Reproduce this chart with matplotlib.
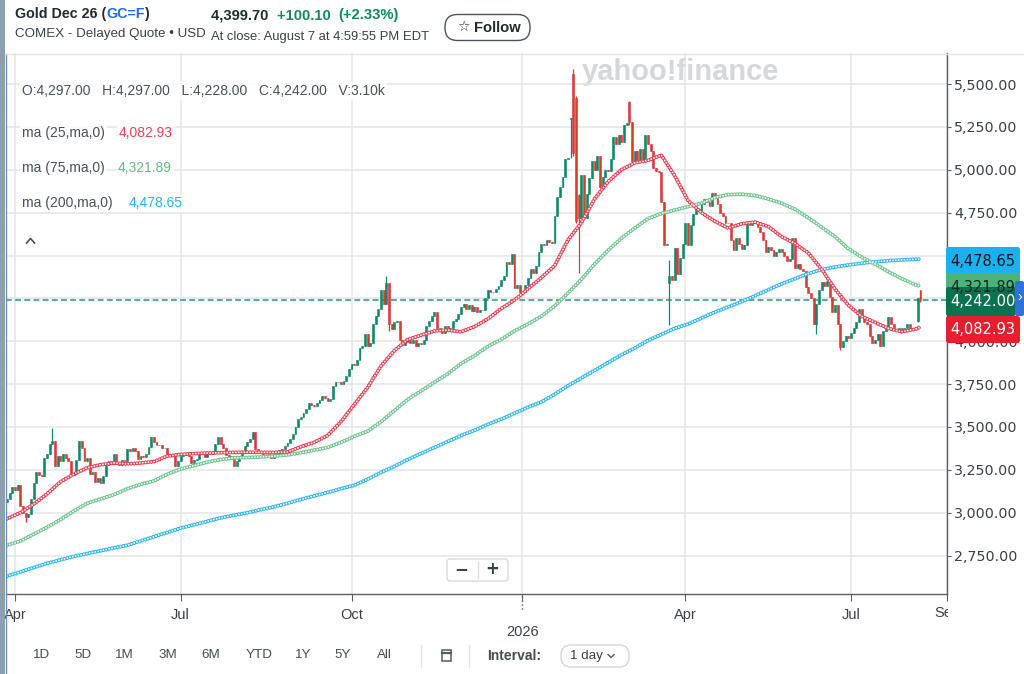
import numpy as np
import pandas as pd
import matplotlib
matplotlib.use("Agg")
import matplotlib.pyplot as plt
import matplotlib.transforms as mtransforms
from matplotlib.patches import FancyBboxPatch, Rectangle

plt.rcParams['lines.scale_dashes'] = False
plt.rcParams['font.family'] = ['Liberation Sans', 'DejaVu Sans']

W, H = 1024, 674

# ---------------- data ----------------
market_holidays = ['2025-04-18', '2025-05-26', '2025-06-19', '2025-07-04', '2025-09-01',
                   '2025-11-27', '2025-12-25', '2026-01-01', '2026-01-19', '2026-02-16',
                   '2026-04-03', '2026-05-25', '2026-06-19', '2026-07-03']
first_day = '2025-03-27'
first_open = 3060

close_2025_mar = [3080, 3115, 3150]
close_2025_apr = [3130, 3160, 3040, 3000, 2975, 2990, 3080, 3175, 3235, 3220, 3215, 3320, 3340,
                  3400, 3420, 3270, 3330, 3300, 3345, 3320, 3300]
close_2025_may = [3220, 3225, 3310, 3420, 3380, 3300, 3320, 3225, 3240, 3180, 3205, 3175, 3215,
                  3280, 3300, 3285, 3340, 3295, 3280, 3305, 3300]
close_2025_jun = [3370, 3360, 3375, 3360, 3315, 3330, 3325, 3340, 3385, 3440, 3410, 3395, 3395,
                  3375, 3380, 3330, 3335, 3340, 3275, 3300]
close_2025_jul = [3330, 3345, 3335, 3330, 3290, 3305, 3315, 3345, 3350, 3325, 3345, 3340, 3360,
                  3400, 3440, 3400, 3375, 3335, 3320, 3330, 3275, 3300]
close_2025_aug = [3330, 3350, 3390, 3410, 3430, 3470, 3370, 3360, 3355, 3345, 3340, 3330, 3320,
                  3345, 3355, 3365, 3370, 3390, 3405, 3430, 3460]
close_2025_sep = [3500, 3545, 3560, 3580, 3605, 3640, 3630, 3620, 3640, 3660, 3680, 3670, 3650,
                  3665, 3740, 3765, 3760, 3750, 3770, 3800, 3840]
close_2025_oct = [3870, 3860, 3890, 3960, 3975, 4040, 3975, 3990, 4100, 4150, 4190, 4300, 4220,
                  4340, 4100, 4070, 4110, 4120, 4010, 3980, 3995, 4010, 3990]
close_2025_nov = [4010, 3975, 3990, 3985, 4005, 4090, 4120, 4150, 4170, 4080, 4060, 4050, 4090,
                  4060, 4075, 4120, 4130, 4160, 4200]
close_2025_dec = [4215, 4190, 4210, 4175, 4200, 4170, 4185, 4180, 4250, 4300, 4290, 4285, 4305,
                  4320, 4360, 4380, 4460, 4450, 4510, 4310, 4330, 4290]
close_2026_jan = [4290, 4330, 4370, 4420, 4400, 4440, 4520, 4570, 4560, 4590, 4580, 4575, 4730,
                  4840, 4900, 4960, 5060, 5070, 5300, 5100]
close_2026_feb = [4700, 4720, 4970, 4720, 4860, 4950, 5050, 5000, 5080, 4900, 4960, 5000, 4990,
                  5060, 5190, 5150, 5200, 5160, 5260]
close_2026_mar = [5270, 5280, 5050, 5110, 5055, 5120, 5050, 5200, 5150, 5110, 5010, 4990, 4985,
                  4810, 4560, 4570, 4380, 4360, 4545, 4390, 4485, 4570]
close_2026_apr = [4690, 4560, 4680, 4740, 4770, 4760, 4800, 4830, 4810, 4790, 4865, 4840, 4800,
                  4750, 4730, 4690, 4690, 4590, 4530, 4600, 4570]
close_2026_may = [4540, 4560, 4690, 4680, 4700, 4690, 4665, 4640, 4590, 4520, 4550, 4530, 4495,
                  4520, 4540, 4520, 4500, 4470, 4480, 4600]
close_2026_jun = [4430, 4450, 4420, 4410, 4315, 4280, 4250, 4100, 4220, 4300, 4345, 4320, 4350,
                  4260, 4170, 4210, 4100, 3965, 4000, 4030, 4020]
close_2026_jul = [4050, 4080, 4110, 4190, 4140, 4110, 4100, 4030, 3990, 4010, 4040, 3975, 4060,
                  4070, 4140, 4100, 4070, 4060, 4080, 4060, 4080, 4100]
close_2026_aug = [4070, 4080, 4070, 4250, 4242]

# (open, high, low) for candles with visible gaps / wicks
ohl_overrides = {
    '2025-04-07': (None, None, 2945),
    '2025-04-22': (None, 3495, None),
    '2025-10-20': (None, 4380, None),
    '2025-10-21': (None, None, 4060),
    '2026-01-29': (5295, None, None),
    '2026-01-30': (5560, 5590, 5080),
    '2026-02-02': (5420, 5430, 4690),
    '2026-02-03': (4850, 4860, 4400),
    '2026-03-03': (5395, 5400, 5260),
    '2026-03-24': (4340, 4475, 4095),
    '2026-06-11': (None, None, 4040),
    '2026-06-25': (None, None, 3950),
    '2026-08-06': (4120, 4255, 4110),
    '2026-08-07': (4297, 4297, 4228),
}

ma_sample_step = 5
ma25_sampled = [2965, 3000, 3050, 3110, 3180, 3225, 3262, 3280, 3290, 3285,
                3290, 3298, 3330, 3340, 3345, 3348, 3350, 3352, 3353, 3352,
                3352, 3354, 3385, 3410, 3450, 3530, 3630, 3730, 3855, 3945,
                4010, 4035, 4060, 4065, 4055, 4085, 4130, 4190, 4240, 4305,
                4370, 4440, 4590, 4690, 4830, 4930, 5000, 5040, 5055, 5085,
                4965, 4820, 4750, 4700, 4660, 4685, 4695, 4670, 4610, 4570,
                4515, 4420, 4305, 4210, 4145, 4110, 4075, 4055, 4070]
ma75_sampled = [2810, 2835, 2875, 2915, 2960, 3010, 3055, 3080, 3105, 3140,
                3165, 3185, 3225, 3255, 3275, 3295, 3310, 3320, 3322, 3325,
                3330, 3337, 3350, 3365, 3380, 3410, 3445, 3475, 3530, 3595,
                3660, 3710, 3760, 3810, 3870, 3915, 3970, 4010, 4060, 4100,
                4145, 4205, 4280, 4360, 4450, 4530, 4600, 4660, 4715, 4745,
                4765, 4785, 4805, 4838, 4855, 4858, 4850, 4830, 4805, 4770,
                4720, 4665, 4610, 4540, 4490, 4450, 4405, 4365, 4330]
ma200_sampled = [2630, 2655, 2680, 2705, 2725, 2745, 2762, 2778, 2795, 2810,
                 2835, 2860, 2885, 2910, 2930, 2950, 2970, 2985, 3000, 3018,
                 3035, 3055, 3077, 3098, 3118, 3140, 3160, 3195, 3235, 3270,
                 3310, 3345, 3380, 3415, 3450, 3480, 3515, 3545, 3580, 3615,
                 3645, 3690, 3740, 3785, 3830, 3875, 3920, 3960, 4005, 4040,
                 4075, 4100, 4135, 4170, 4200, 4230, 4265, 4300, 4335, 4365,
                 4395, 4418, 4433, 4445, 4455, 4463, 4470, 4474, 4478]
ma25_last, ma75_last, ma200_last = 4082.93, 4321.89, 4478.65
last_close = 4242.00

month_ticks = ['2025-04-01', '2025-07-01', '2025-10-01', '2026-01-01', '2026-04-01', '2026-07-01']
month_labels = ['Apr', 'Jul', 'Oct', '', 'Apr', 'Jul']
price_ticks = [2750, 3000, 3250, 3500, 3750, 4000, 4250, 4500, 4750, 5000, 5250, 5500]

# ---------------- build candles ----------------
closes = np.array(close_2025_mar + close_2025_apr + close_2025_may + close_2025_jun +
                  close_2025_jul + close_2025_aug + close_2025_sep + close_2025_oct +
                  close_2025_nov + close_2025_dec + close_2026_jan + close_2026_feb +
                  close_2026_mar + close_2026_apr + close_2026_may + close_2026_jun +
                  close_2026_jul + close_2026_aug, dtype=float)
n = len(closes)
dates = pd.bdate_range(first_day, periods=n, freq='C', holidays=market_holidays)
xs = np.arange(n)
opens = np.r_[first_open, closes[:-1]].astype(float)
highs = np.maximum(opens, closes)
lows = np.minimum(opens, closes)
pos = {d.strftime('%Y-%m-%d'): i for i, d in enumerate(dates)}
for d, (o, h, l) in ohl_overrides.items():
    i = pos.get(d)
    if i is None:
        continue
    if o is not None:
        opens[i] = o
    if h is not None:
        highs[i] = h
    if l is not None:
        lows[i] = l
highs = np.maximum(highs, np.maximum(opens, closes))
lows = np.minimum(lows, np.minimum(opens, closes))

UP, DOWN = '#0f8a69', '#d93b36'
cols = np.where(closes >= opens, UP, DOWN)

# ---------------- figure ----------------
fig = plt.figure(figsize=(W / 100, H / 100), dpi=100)
fig.patch.set_facecolor('white')

ax_l, ax_r, ax_t, ax_b = 6, 947, 53, 594
ax = fig.add_axes([ax_l / W, 1 - ax_b / H, (ax_r - ax_l) / W, (ax_b - ax_t) / H])
ov = fig.add_axes([0, 0, 1, 1], zorder=10)
ov.set_xlim(0, W)
ov.set_ylim(H, 0)
ov.axis('off')
ov.patch.set_alpha(0)

px_per_day = 2.671
x_left = 3 - (15 - ax_l) / px_per_day
x_right = 3 + (ax_r - 15) / px_per_day
ax.set_xlim(x_left, x_right)
ax.set_ylim(2526, 5681)

# grid / spines
ax.set_axisbelow(True)
for s in ['top', 'left']:
    ax.spines[s].set_visible(False)
for s in ['right', 'bottom']:
    ax.spines[s].set_color('#5d6167')
    ax.spines[s].set_linewidth(1.0)
ax.yaxis.tick_right()
ax.set_yticks(price_ticks)
ax.set_yticklabels([f'{v:,.2f}' for v in price_ticks], fontfamily='DejaVu Sans')
tick_idx = [int(np.searchsorted(dates.values, np.datetime64(m))) for m in month_ticks]
ax.set_xticks(tick_idx + [x_right])
ax.set_xticklabels(month_labels + [''])
ax.tick_params(axis='y', length=3, pad=2, labelsize=10.3, colors='#5d6167', labelcolor='#3b4046')
ax.tick_params(axis='x', length=5, pad=5, labelsize=10.5, colors='#5d6167', labelcolor='#3b4046')
ax.grid(True, color='#e4e5e9', lw=1.1)

# last-close dashed line
ax.axhline(last_close, color='#5aae98', lw=1.5, dashes=(4.2, 2.4), zorder=1.5)

# candles
ax.vlines(xs, lows, highs, colors=cols, lw=0.9, zorder=2)
ax.bar(xs, np.abs(closes - opens), bottom=np.minimum(opens, closes), width=0.7,
       color=cols, edgecolor=cols, linewidth=0.4, zorder=2.1)

# moving averages drawn as chains of small rings
ma_x = np.r_[xs[::ma_sample_step][:len(ma25_sampled)], xs[-1]]


def ring_chain(vals, last, edge, fill):
    yv = np.r_[vals, last]
    pattern = (0, (0.01, 2.05))
    ax.plot(ma_x, yv, color=edge, lw=2.9, ls=pattern, dash_capstyle='round', zorder=4)
    ax.plot(ma_x, yv, color=fill, lw=1.45, ls=pattern, dash_capstyle='round', zorder=4.1)


ring_chain(ma200_sampled, ma200_last, '#2bb4f2', '#eef9fe')
ring_chain(ma75_sampled, ma75_last, '#6cc38b', '#eef8f1')
ring_chain(ma25_sampled, ma25_last, '#f03a4e', '#fff0f2')

# watermark
ax.text(680, 72, 'yahoo!finance', transform=ov.transData, ha='center', va='center',
        fontsize=21, fontweight='bold', color='#d5d7db', zorder=0.5)

# x-axis extras
trans = mtransforms.blended_transform_factory(ax.transData, ov.transData)
jan_i = tick_idx[3]
ax.plot([jan_i, jan_i], [596, 610], transform=trans, clip_on=False, color='#6a6f75',
        lw=1.0, ls=(0, (1.2, 1.6)))
ax.text(jan_i, 632, '2026', transform=trans, ha='center', va='center', fontsize=10.5,
        color='#3b4046')
sep = ax.text(x_right, 613.5, 'Sep', transform=trans, ha='center', va='center',
              fontsize=10.5, color='#3b4046', clip_on=True)
sep.set_clip_path(Rectangle((0, 0), ax_r + 1, H, transform=ov.transData))

# ---------------- overlay (pixel coordinates) ----------------
ov.add_patch(Rectangle((0, 0), 5, H, facecolor='#8aa2b0', edgecolor='none'))
ov.plot([5.5, 5.5], [54, H], color='#6b93c9', lw=1)
ov.plot([6, W], [54, 54], color='#e3e4e7', lw=1)

renderer = fig.canvas.get_renderer()


def pieces(x, y, parts, **kw):
    for txt, col, weight in parts:
        t = ov.text(x, y, txt, color=col, fontweight=weight, ha='left', va='center', **kw)
        bb = t.get_window_extent(renderer)
        x += bb.width


DARK = '#232a31'
GREEN = '#118a5a'
pieces(15, 14, [('Gold Dec 26 (', DARK, 'bold'), ('GC=F', '#1a6cf0', 'bold'), (')', DARK, 'bold')],
       fontsize=10.3)
ov.text(15, 34, 'COMEX - Delayed Quote \u2022 USD', fontsize=9.6, color='#3a4047', va='center')
pieces(211, 15.5, [('4,399.70  ', DARK, 'bold'), ('+100.10  ', GREEN, 'bold'),
                   ('(+2.33%)', GREEN, 'bold')], fontsize=10.6)
ov.text(211, 37, 'At close: August 7 at 4:59:55 PM EDT', fontsize=9.4, color='#3a4047', va='center')
ov.add_patch(FancyBboxPatch((445, 14.5), 85, 26, boxstyle='round,pad=0,rounding_size=12.5',
                            facecolor='white', edgecolor='#4e545b', lw=1.0))
ov.text(463, 27.5, '\u2606', fontsize=10, fontfamily='DejaVu Sans', color=DARK,
        ha='center', va='center')
ov.text(474, 27.5, 'Follow', fontsize=10.6, fontweight='bold', color=DARK, va='center')

# legend texts inside the chart
box = dict(facecolor='white', edgecolor='none', alpha=0.85, pad=1.5)
GRAY = '#4a5158'
ov.text(22, 91, 'O:4,297.00   H:4,297.00   L:4,228.00   C:4,242.00   V:3.10k', fontsize=10,
        color=GRAY, va='center', bbox=box)
ov.text(22, 133, 'ma (25,ma,0)', fontsize=10, color=GRAY, va='center', bbox=box)
ov.text(119, 133, f'{ma25_last:,.2f}', fontsize=10, color='#f0404f', va='center', bbox=box)
ov.text(22, 168, 'ma (75,ma,0)', fontsize=10, color=GRAY, va='center', bbox=box)
ov.text(118, 168, f'{ma75_last:,.2f}', fontsize=10, color='#5fbf7e', va='center', bbox=box)
ov.text(22, 203, 'ma (200,ma,0)', fontsize=10, color=GRAY, va='center', bbox=box)
ov.text(129, 203, f'{ma200_last:,.2f}', fontsize=10, color='#23b2f0', va='center', bbox=box)
ov.plot([26.5, 30.5, 34.5], [243, 238.5, 243], color=GRAY, lw=1.2)

# zoom control
ov.add_patch(FancyBboxPatch((447, 559), 61, 22, boxstyle='round,pad=0,rounding_size=3',
                            facecolor='white', edgecolor='#d9dadd', lw=1))
ov.plot([477.5, 477.5], [562, 578], color='#dcdde0', lw=1)
ov.text(461, 569.5, '\u2212', fontsize=12, fontweight='bold', color='#3a4047', ha='center', va='center',
        fontfamily='DejaVu Sans')
ov.text(492, 569.5, '+', fontsize=12, fontweight='bold', color='#3a4047', ha='center', va='center',
        fontfamily='DejaVu Sans')

# right-hand value boxes
def value_box(y0, h, w, face, text, tcol):
    ov.add_patch(FancyBboxPatch((946, y0), w, h, boxstyle='round,pad=0,rounding_size=2.5',
                                facecolor=face, edgecolor='none'))
    ov.text(983, y0 + h / 2 + 0.5, text, fontsize=10.5, fontfamily='DejaVu Sans', color=tcol,
            ha='center', va='center')


value_box(247, 28, 74, '#1ab1ee', f'{ma200_last:,.2f}', '#0b1620')
value_box(273, 27, 74, '#4bb27a', f'{ma75_last:,.2f}', '#0e2a1b')
value_box(287, 29, 70, '#0b7250', f'{last_close:,.2f}', 'white')
value_box(316, 27, 74, '#e51f2c', f'{ma25_last:,.2f}', 'white')
ov.add_patch(FancyBboxPatch((1015, 281), 9, 35, boxstyle='round,pad=0,rounding_size=2',
                            facecolor='#2e72da', edgecolor='none'))
ov.text(1020, 297, '\u203a', fontsize=10, color='white', ha='center', va='center')

# bottom range bar
for lab, cx in [('1D', 42), ('5D', 83), ('1M', 124), ('3M', 168), ('6M', 211), ('YTD', 259),
                ('1Y', 303), ('5Y', 343), ('All', 384)]:
    ov.text(cx, 655.5, lab, fontsize=9.6, color='#464c53', ha='center', va='center')
for sx in (421, 469):
    ov.plot([sx, sx], [645, 667], color='#e0e1e4', lw=1)
ov.add_patch(Rectangle((441.5, 650), 9, 11, facecolor='none', edgecolor='#555b62', lw=1.1))
ov.plot([441.5, 450.5], [653, 653], color='#555b62', lw=1.6)
ov.text(487, 655.5, 'Interval:', fontsize=10, fontweight='bold', color='#464c53', va='center')
ov.add_patch(FancyBboxPatch((561, 645), 68, 22, boxstyle='round,pad=0,rounding_size=10',
                            facecolor='white', edgecolor='#d4d6da', lw=1))
ov.text(570, 656, '1 day', fontsize=9.6, color='#3a4047', va='center')
ov.plot([608, 611, 614], [654.5, 657.5, 654.5], color='#555b62', lw=1)

fig.savefig('out.png', dpi=100)
